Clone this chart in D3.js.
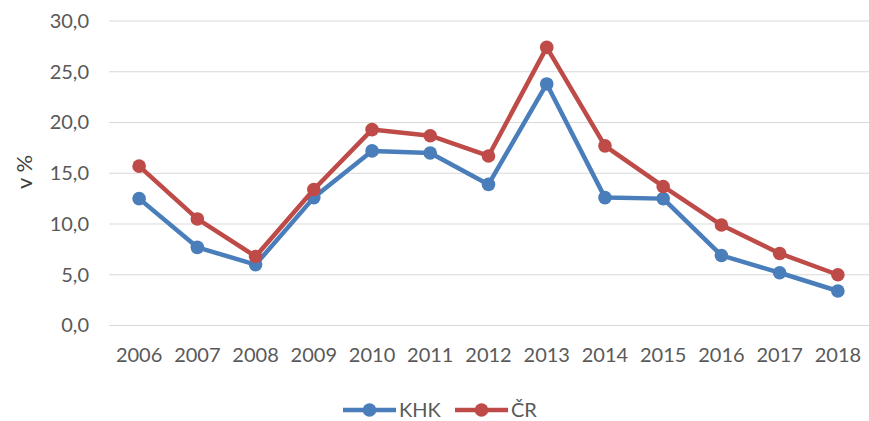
<!DOCTYPE html>
<html><head><meta charset="utf-8">
<script src="https://cdn.jsdelivr.net/npm/d3@7"></script>
<style>body{margin:0;background:#fff}svg{display:block}</style>
</head><body>
<svg id="c" width="869" height="421"></svg>
<script>
const years = ["2006","2007","2008","2009","2010","2011","2012","2013","2014","2015","2016","2017","2018"];
const khk = [12.5, 7.7, 6.0, 12.6, 17.2, 17.0, 13.9, 23.8, 12.6, 12.5, 6.9, 5.2, 3.4];
const cr  = [15.7, 10.5, 6.8, 13.4, 19.3, 18.7, 16.7, 27.4, 17.7, 13.7, 9.9, 7.1, 5.0];
const yTicks = [0, 5, 10, 15, 20, 25, 30];
const seriesNames = ["KHK", "ČR"];
const colors = ["#4a7ebb", "#be4b48"];

const svg = d3.select("#c");
const font = "Lato, 'Open Sans', sans-serif";
const x = d3.scaleBand().domain(years).range([110, 867]);
const y = d3.scaleLinear().domain([0, 30]).range([325.5, 21]);

// gridlines
svg.append("g").selectAll("line").data(yTicks).join("line")
  .attr("x1", 109).attr("x2", 869)
  .attr("y1", d => y(d)).attr("y2", d => y(d))
  .attr("stroke", "#d9d9d9").attr("stroke-width", 1.2);

// y axis labels
const yAxis = d3.axisLeft(y).tickValues(yTicks).tickSize(0).tickPadding(0)
  .tickFormat(d => d3.format(".1f")(d).replace(".", ","));
const gy = svg.append("g").attr("transform", "translate(89,0)").call(yAxis);
gy.select(".domain").remove();
gy.selectAll("text").attr("font-family", font).attr("font-size", 20).attr("fill", "#595959");

// x axis labels
const xAxis = d3.axisBottom(x).tickSize(0).tickPadding(0);
const gx = svg.append("g").attr("transform", "translate(0,346)").call(xAxis);
gx.select(".domain").remove();
gx.selectAll("text").attr("font-family", font).attr("font-size", 20).attr("fill", "#595959").attr("dy", "0.8em");

// y title
svg.append("text").attr("transform", "translate(32,172) rotate(-90)")
  .attr("text-anchor", "middle").attr("font-family", font).attr("font-size", 22)
  .attr("fill", "#404040").text("v %");

const data = [khk, cr];
const line = d3.line().x((d, i) => x(years[i]) + x.bandwidth() / 2).y(d => y(d));
data.forEach((vals, k) => {
  svg.append("path").datum(vals).attr("d", line).attr("fill", "none")
    .attr("stroke", colors[k]).attr("stroke-width", 4.5).attr("stroke-linejoin", "round");
  svg.append("g").selectAll("circle").data(vals).join("circle")
    .attr("cx", (d, i) => x(years[i]) + x.bandwidth() / 2).attr("cy", d => y(d))
    .attr("r", 6.8).attr("fill", colors[k]);
});

// legend
const legX = [343, 455];
seriesNames.forEach((n, k) => {
  const g = svg.append("g").attr("transform", `translate(${legX[k]},410)`);
  g.append("line").attr("x1", 0).attr("x2", 53).attr("stroke", colors[k]).attr("stroke-width", 4.5);
  g.append("circle").attr("cx", 26.5).attr("r", 6.8).attr("fill", colors[k]);
  g.append("text").attr("x", 56).attr("y", 7).attr("font-family", font).attr("font-size", 20)
    .attr("fill", "#595959").text(n);
});
</script>
</body></html>
